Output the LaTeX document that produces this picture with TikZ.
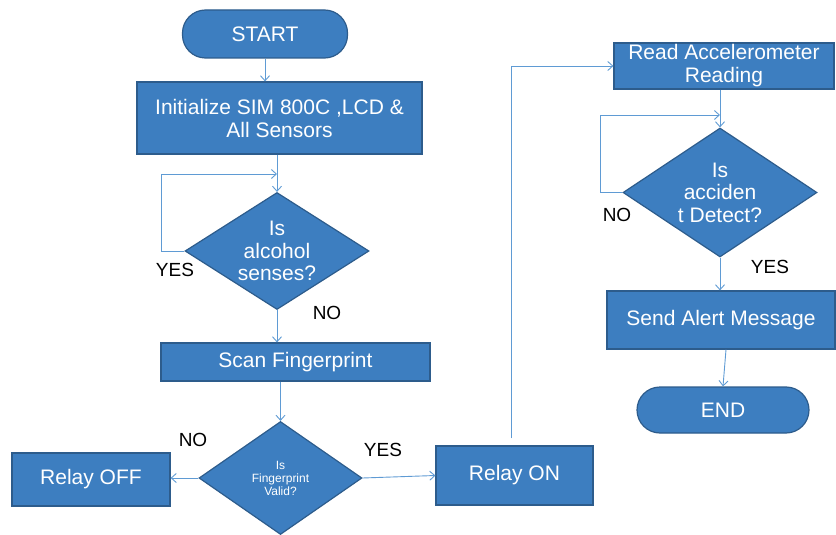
\documentclass[tikz,border=0pt]{standalone}
\usepackage{fontspec}
\setmainfont{Liberation Sans}
\usetikzlibrary{shapes.geometric,arrows.meta,calc}

\definecolor{boxfill}{RGB}{61,126,192}
\definecolor{boxline}{RGB}{45,92,140}
\definecolor{flow}{RGB}{95,155,212}

\tikzset{
  procbox/.style={rectangle, draw=boxline, line width=1.2pt, fill=boxfill,
    text=white, align=center, inner sep=0pt,
    font=\fontsize{21}{23}\selectfont},
  termbox/.style={procbox, rounded corners=23pt},
  decbox/.style={diamond, draw=boxline, line width=1.2pt, fill=boxfill,
    text=white, align=center, inner sep=-14pt, aspect=1.6,
    font=\fontsize{21}{22.5}\selectfont},
  flowarrow/.style={draw=flow, line width=0.9pt,
    -{Straight Barb[length=5pt,width=9pt,line width=0.9pt]}},
  flowline/.style={draw=flow, line width=0.9pt},
  answer/.style={text=black, font=\fontsize{19}{21}\selectfont, inner sep=0pt}
}

\begin{document}
\begin{tikzpicture}[x=1pt,y=-1pt]
\useasboundingbox (0,0) rectangle (836,535);

% left column
\node[termbox, minimum width=165, minimum height=48] (start) at (265,34) {START};
\node[procbox, minimum width=285, minimum height=72] (init) at (279.5,118)
  {Initialize SIM 800C ,LCD \&\\All Sensors};
\node[decbox, minimum width=184, minimum height=117] (alc) at (277,251)
  {Is\\alcohol\\senses?};
\node[procbox, minimum width=269, minimum height=38] (scan) at (295.5,362)
  {Scan Fingerprint};
\node[decbox, minimum width=163, minimum height=113, inner sep=-8pt,
  font=\fontsize{12}{13}\selectfont] (fp) at (280.5,478)
  {Is\\Fingerprint\\Valid?};
\node[procbox, minimum width=158, minimum height=53] (off) at (91,479.5) {Relay OFF};
\node[procbox, minimum width=157, minimum height=59] (on) at (514.5,475.5) {Relay ON};

% right column
\node[procbox, minimum width=220, minimum height=46] (acc) at (724,66)
  {Read Accelerometer\\Reading};
\node[decbox, minimum width=194, minimum height=129] (acd) at (720,192.5)
  {Is\\acciden\\t Detect?};
\node[procbox, minimum width=228, minimum height=58] (send) at (721,320)
  {Send Alert Message};
\node[termbox, minimum width=172, minimum height=46] (end) at (723,410) {END};

% loop-back and branch points
\coordinate (alcloop) at (277,174);
\coordinate (acdloop) at (720,115);
\coordinate (onup) at ([shift={(-3,-7)}]on.north);

% connectors
\draw[flowarrow] (start.south) -- (start.south |- init.north);
\draw[flowarrow] (alc.north |- init.south) -- (alc.north);
\draw[flowarrow] (alc.west) -- (161,251) |- (alcloop);
\draw[flowarrow] (alc.south) -- (alc.south |- scan.north);
\draw[flowarrow] (fp.north |- scan.south) -- (fp.north);
\draw[flowarrow] (fp.west) -- (fp.west -| off.east);
\draw[flowarrow] (fp.east) -- (on.west);
\draw[flowarrow] (onup) |- (acc.west);
\draw[flowarrow] (acd.north |- acc.south) -- (acd.north);
\draw[flowarrow] (acd.west) -- (600,192.5) |- (acdloop);
\draw[flowarrow] (acd.south) -- (acd.south |- send.north);
\draw[flowarrow] ([xshift=5pt]send.south) -- (end.north);

% branch labels
\node[answer] at (175,270) {YES};
\node[answer] at (327,313) {NO};
\node[answer] at (193,440) {NO};
\node[answer] at (383,450) {YES};
\node[answer] at (617,215) {NO};
\node[answer] at (770,267) {YES};
\end{tikzpicture}
\end{document}
